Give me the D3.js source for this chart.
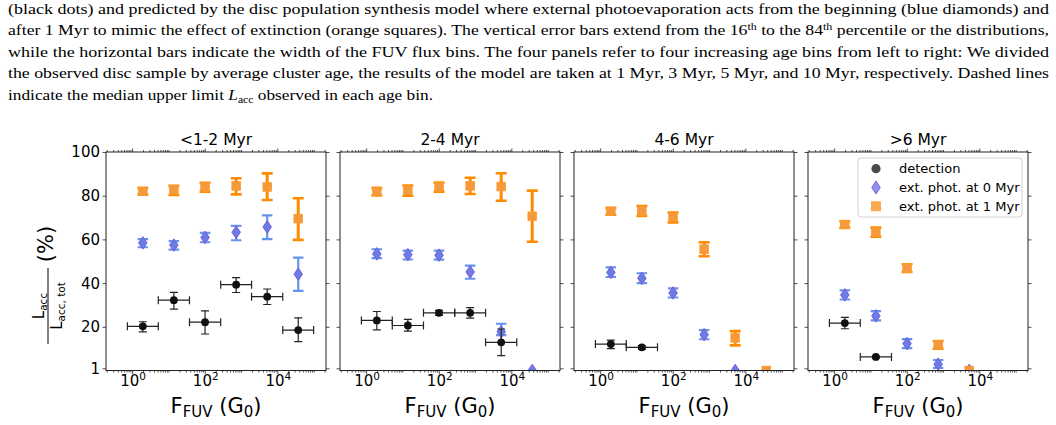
<!DOCTYPE html>
<html>
<head>
<meta charset="utf-8">
<script src="https://cdn.jsdelivr.net/npm/d3@7"></script>
<style>
html,body{margin:0;padding:0;background:#fff;}
svg{display:block;}
</style>
</head>
<body>
<svg id="chart" width="1056" height="425"></svg>
<script>
// ---------------- DATA ----------------
const panelTitles = ["<1-2 Myr", "2-4 Myr", "4-6 Myr", ">6 Myr"];
const fuvBinEdges = [0.74, 5.25, 38, 275, 1950, 14100, 100000];
const fuvBinCenters = [1.97, 14.1, 102, 733, 5250, 37600];
const xTickValues = [1, 100, 10000];
const xTickExponents = ["0", "2", "4"];
const yTickValues = [1, 20, 40, 60, 80, 100];

// detection (black dots): median, 16th, 84th percentiles, per panel
const detMedian = [
  [20.2, 32.2, 22.1, 39.3, 33.8, 18.5],
  [22.9, 20.6, 26.4, 26.4, 12.9, null],
  [12.1, 10.6, null, null, null, null],
  [21.7, 6.2, null, null, null, null]
];
const detLow = [
  [17.7, 28.1, 16.7, 35.7, 30.2, 13.2],
  [18.6, 18.0, 25.2, 24.0, 6.8, null],
  [10.0, 9.7, null, null, null, null],
  [19.1, 5.7, null, null, null, null]
];
const detHigh = [
  [22.3, 35.8, 27.3, 42.5, 37.3, 24.1],
  [27.0, 23.4, 27.5, 28.8, 19.0, null],
  [13.9, 11.4, null, null, null, null],
  [24.3, 6.6, null, null, null, null]
];

// ext. phot. at 0 Myr (blue diamonds)
const phot0Median = [
  [58.4, 57.4, 60.9, 63.3, 65.7, 44.1],
  [53.4, 53.0, 52.8, 45.1, 17.7, 0],
  [44.9, 42.2, 35.5, 16.4, 0, null],
  [34.6, 25.0, 12.3, 2.9, 0, null]
];
const phot0Low = [
  [56.4, 55.3, 58.7, 59.6, 60.1, 36.4],
  [51.4, 50.8, 50.7, 42.0, 16.2, 0],
  [42.8, 40.0, 33.4, 14.3, 0, null],
  [32.5, 22.9, 10.2, 1.2, 0, null]
];
const phot0High = [
  [60.1, 59.2, 63.0, 66.2, 71.0, 51.7],
  [55.5, 54.9, 54.9, 48.0, 21.4, 0],
  [47.2, 44.5, 37.6, 18.5, 0, null],
  [36.7, 27.2, 14.4, 4.8, 0, null]
];

// ext. phot. at 1 Myr (orange squares)
const phot1Median = [
  [82.0, 82.6, 84.0, 84.5, 84.0, 69.5],
  [82.0, 82.4, 84.0, 84.5, 84.2, 70.6],
  [72.9, 73.0, 70.1, 55.5, 14.9, 0],
  [66.8, 63.3, 46.9, 11.8, 0, null]
];
const phot1Low = [
  [80.5, 80.3, 81.8, 80.6, 78.0, 59.8],
  [80.1, 80.0, 81.8, 80.8, 77.7, 58.9],
  [71.3, 70.7, 67.8, 52.3, 11.5, 0],
  [65.3, 61.2, 45.1, 10.0, 0, null]
];
const phot1High = [
  [83.5, 84.5, 85.9, 88.0, 90.2, 78.8],
  [83.5, 84.7, 86.0, 88.2, 90.3, 82.3],
  [74.4, 75.3, 72.3, 58.7, 18.0, 0],
  [68.3, 65.4, 48.6, 13.5, 0, null]
];

const legendLabels = ["detection", "ext. phot. at 0 Myr", "ext. phot. at 1 Myr"];

const captionLines = [
  "(black dots) and predicted by the disc population synthesis model where external photoevaporation acts from the beginning (blue diamonds) and",
  ["after 1 Myr to mimic the effect of extinction (orange squares). The vertical error bars extend from the 16", "th", " to the 84", "th", " percentile or the distributions,"],
  "while the horizontal bars indicate the width of the FUV flux bins. The four panels refer to four increasing age bins from left to right: We divided",
  "the observed disc sample by average cluster age, the results of the model are taken at 1 Myr, 3 Myr, 5 Myr, and 10 Myr, respectively. Dashed lines",
  ["indicate the median upper limit ", "L", "acc", " observed in each age bin."]
];

// ---------------- LAYOUT ----------------
const svg = d3.select("#chart");
const plotTop = 152, plotBottom = 370.5, plotW = 220, panelStep = 234, firstLeft = 106;
const FONT = "'DejaVu Sans', sans-serif";
const C_ORANGE = "#ff8c00", C_BLUE = "#6495ed";

// caption
const capG = svg.append("g").attr("font-family", "'Liberation Serif', 'Times New Roman', serif").attr("font-size", 15.5).attr("fill", "#000");
const capBase = [14, 35.4, 56.8, 78.2, 99.6];
captionLines.forEach((ln, i) => {
  const t = capG.append("text").attr("x", 8).attr("y", capBase[i]);
  if (i < 4) t.attr("textLength", 1041).attr("lengthAdjust", "spacingAndGlyphs");
  else t.attr("textLength", 425).attr("lengthAdjust", "spacingAndGlyphs");
  if (typeof ln === "string") { t.text(ln); }
  else if (i === 1) {
    t.append("tspan").text(ln[0]);
    t.append("tspan").attr("dy", -5.5).attr("font-size", 10.5).text(ln[1]);
    t.append("tspan").attr("dy", 5.5).text(ln[2]);
    t.append("tspan").attr("dy", -5.5).attr("font-size", 10.5).text(ln[3]);
    t.append("tspan").attr("dy", 5.5).text(ln[4]);
  } else {
    t.append("tspan").text(ln[0]);
    t.append("tspan").attr("font-style", "italic").text(ln[1]);
    t.append("tspan").attr("dy", 3).attr("font-size", 10.5).text(ln[2]);
    t.append("tspan").attr("dy", -3).text(ln[3]);
  }
});

const y = d3.scaleLinear().domain([0, 100]).range([plotBottom, plotTop]);

function diamondPath(cx, cy, w, h) {
  return `M${cx},${cy - h / 2}L${cx + w / 2},${cy}L${cx},${cy + h / 2}L${cx - w / 2},${cy}Z`;
}

panelTitles.forEach((title, p) => {
  const left = firstLeft + p * panelStep;
  const x = d3.scaleLog().domain([Math.pow(10, -0.72), Math.pow(10, 5.34)]).range([left, left + plotW]);
  const g = svg.append("g");

  // clip
  const clipId = "clip" + p;
  svg.append("clipPath").attr("id", clipId).append("rect")
    .attr("x", left).attr("y", plotTop).attr("width", plotW).attr("height", plotBottom - plotTop);

  // axes ticks
  const minorTicks = [];
  for (let e = -1; e <= 5; e++) {
    for (let m = 1; m <= 9; m++) {
      const v = m * Math.pow(10, e);
      if (v >= x.domain()[0] && v <= x.domain()[1]) {
        if (!(m === 1 && e % 2 === 0)) minorTicks.push(v);
      }
    }
  }
  const axB = d3.axisBottom(x).tickValues(xTickValues).tickSize(3.5).tickFormat("");
  const axBm = d3.axisBottom(x).tickValues(minorTicks).tickSize(2).tickFormat("");
  const axT = d3.axisTop(x).tickValues(xTickValues).tickSize(3.5).tickFormat("");
  const axTm = d3.axisTop(x).tickValues(minorTicks).tickSize(2).tickFormat("");
  [[axB, plotBottom], [axBm, plotBottom], [axT, plotTop], [axTm, plotTop]].forEach(([a, yy]) => {
    const ag = g.append("g").attr("transform", `translate(0,${yy})`).call(a);
    ag.select(".domain").remove();
    ag.selectAll("line").attr("stroke", "#222").attr("stroke-width", 0.8);
  });
  const axL = d3.axisLeft(y).tickValues(yTickValues).tickSize(3.5).tickFormat("");
  const axR = d3.axisRight(y).tickValues(yTickValues).tickSize(3.5).tickFormat("");
  [[axL, left], [axR, left + plotW]].forEach(([a, xx]) => {
    const ag = g.append("g").attr("transform", `translate(${xx},0)`).call(a);
    ag.select(".domain").remove();
    ag.selectAll("line").attr("stroke", "#222").attr("stroke-width", 0.8);
  });

  // x tick labels
  xTickValues.forEach((v, i) => {
    const t = g.append("text").attr("x", x(v) + 1).attr("y", 386).attr("text-anchor", "middle")
      .attr("font-family", FONT).attr("font-size", 15).attr("fill", "#000");
    t.append("tspan").text("10");
    t.append("tspan").attr("dy", -6).attr("font-size", 10.5).text(xTickExponents[i]);
  });
  // y tick labels
  if (p === 0) {
    yTickValues.forEach(v => {
      g.append("text").attr("x", left - 6).attr("y", y(v)).attr("dy", "0.36em").attr("text-anchor", "end")
        .attr("font-family", FONT).attr("font-size", 15).attr("fill", "#000").text(v);
    });
  }

  // title
  g.append("text").attr("x", left + plotW / 2).attr("y", 144.5).attr("text-anchor", "middle")
    .attr("font-family", FONT).attr("font-size", 15.5).attr("fill", "#000").text(title);

  // x label
  const xl = g.append("text").attr("x", left + plotW / 2).attr("y", 413).attr("text-anchor", "middle")
    .attr("font-family", FONT).attr("font-size", 21).attr("fill", "#000");
  xl.append("tspan").text("F");
  xl.append("tspan").attr("dy", 4).attr("font-size", 15).text("FUV");
  xl.append("tspan").attr("dy", -4).text(" (G");
  xl.append("tspan").attr("dy", 4).attr("font-size", 15).text("0");
  xl.append("tspan").attr("dy", -4).text(")");

  // data layer
  const dg = g.append("g").attr("clip-path", `url(#${clipId})`);

  function vErr(med, lo, hi, color, lw, capW, capLw) {
    med.forEach((m, i) => {
      if (m === null || lo[i] === null) return;
      if (hi[i] - lo[i] <= 0) return;
      const cx = x(fuvBinCenters[i]);
      dg.append("line").attr("x1", cx).attr("x2", cx).attr("y1", y(lo[i])).attr("y2", y(hi[i]))
        .attr("stroke", color).attr("stroke-width", lw);
      [lo[i], hi[i]].forEach(v => {
        dg.append("line").attr("x1", cx - capW / 2).attr("x2", cx + capW / 2).attr("y1", y(v)).attr("y2", y(v))
          .attr("stroke", color).attr("stroke-width", capLw);
      });
    });
  }

  // blue
  vErr(phot0Median[p], phot0Low[p], phot0High[p], C_BLUE, 2.2, 10.5, 2.2);
  phot0Median[p].forEach((m, i) => {
    if (m === null) return;
    dg.append("path").attr("d", diamondPath(x(fuvBinCenters[i]), y(m), 8.5, 12.5))
      .attr("fill", "#6a7ce6").attr("stroke", "#7b5cd8").attr("stroke-width", 1);
  });
  // orange
  vErr(phot1Median[p], phot1Low[p], phot1High[p], C_ORANGE, 3, 11, 2.6);
  phot1Median[p].forEach((m, i) => {
    if (m === null) return;
    const cx = x(fuvBinCenters[i]), cy = y(m);
    dg.append("rect").attr("x", cx - 4.3).attr("y", cy - 4.3).attr("width", 8.6).attr("height", 8.6)
      .attr("fill", "#f39b3c").attr("stroke", "#ff9a2a").attr("stroke-width", 0.8);
  });
  // black
  detMedian[p].forEach((m, i) => {
    if (m === null) return;
    const cx = x(fuvBinCenters[i]), cy = y(m);
    const x0 = x(fuvBinEdges[i]), x1 = x(fuvBinEdges[i + 1]);
    const col = "#222";
    dg.append("line").attr("x1", x0).attr("x2", x1).attr("y1", cy).attr("y2", cy).attr("stroke", col).attr("stroke-width", 1.2);
    [x0, x1].forEach(xx => dg.append("line").attr("x1", xx).attr("x2", xx).attr("y1", cy - 4).attr("y2", cy + 4).attr("stroke", col).attr("stroke-width", 1.2));
    dg.append("line").attr("x1", cx).attr("x2", cx).attr("y1", y(detLow[p][i])).attr("y2", y(detHigh[p][i])).attr("stroke", col).attr("stroke-width", 1.2);
    [detLow[p][i], detHigh[p][i]].forEach(v => dg.append("line").attr("x1", cx - 4).attr("x2", cx + 4).attr("y1", y(v)).attr("y2", y(v)).attr("stroke", col).attr("stroke-width", 1.2));
    dg.append("circle").attr("cx", cx).attr("cy", cy).attr("r", 3.9).attr("fill", "#111");
  });

  // frame
  g.append("rect").attr("x", left).attr("y", plotTop).attr("width", plotW).attr("height", plotBottom - plotTop)
    .attr("fill", "none").attr("stroke", "#222").attr("stroke-width", 1);

  // legend
  if (p === 3) {
    const lg = g.append("g");
    lg.append("rect").attr("x", 858).attr("y", 158).attr("width", 164).attr("height", 59).attr("rx", 3)
      .attr("fill", "#fff").attr("fill-opacity", 0.8).attr("stroke", "#d0d0d0").attr("stroke-width", 1);
    const rows = [168.7, 187.5, 206.3];
    lg.append("circle").attr("cx", 876).attr("cy", rows[0]).attr("r", 4.6).attr("fill", "#4a4a4a");
    lg.append("path").attr("d", diamondPath(876, rows[1], 8.5, 13)).attr("fill", "#8f8ff0").attr("stroke", "#8060d8").attr("stroke-width", 1);
    lg.append("rect").attr("x", 871.5).attr("y", rows[2] - 4.5).attr("width", 9).attr("height", 9).attr("fill", "#f7ab4e").attr("stroke", "#fa9e3a").attr("stroke-width", 0.8);
    legendLabels.forEach((lab, i) => {
      lg.append("text").attr("x", 899).attr("y", rows[i]).attr("dy", "0.36em")
        .attr("font-family", FONT).attr("font-size", 13).attr("fill", "#000").text(lab);
    });
  }
});

// y label
const yl = svg.append("g").attr("transform", "translate(48,306) rotate(-90)").attr("font-family", FONT).attr("fill", "#000");
yl.append("line").attr("x1", -38).attr("x2", 38).attr("y1", 0).attr("y2", 0).attr("stroke", "#000").attr("stroke-width", 1);
const num = yl.append("text").attr("x", 0).attr("y", -4).attr("text-anchor", "middle").attr("font-size", 15);
num.append("tspan").text("L");
num.append("tspan").attr("dy", 3).attr("font-size", 10.5).text("acc");
const den = yl.append("text").attr("x", 0).attr("y", 14).attr("text-anchor", "middle").attr("font-size", 15);
den.append("tspan").text("L");
den.append("tspan").attr("dy", 3).attr("font-size", 10.5).text("acc, tot");
svg.append("text").attr("transform", "translate(53,244) rotate(-90)").attr("text-anchor", "middle")
  .attr("font-family", FONT).attr("font-size", 21).attr("fill", "#000").text("(%)");
</script>
</body>
</html>
